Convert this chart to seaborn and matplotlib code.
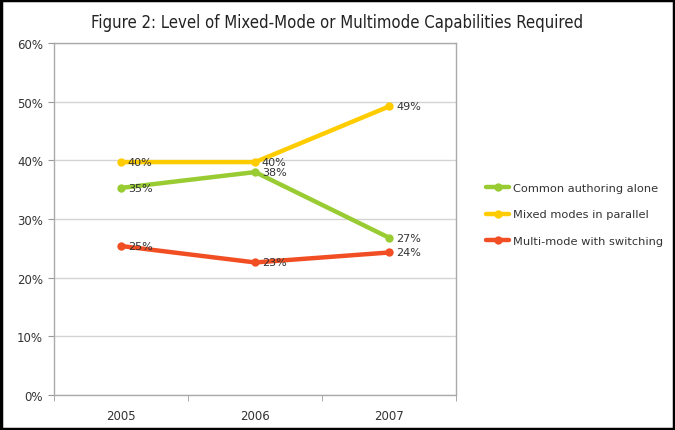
import pandas as pd
import seaborn as sns
import matplotlib.pyplot as plt
from matplotlib.patches import Rectangle

years = ['2005', '2006', '2007']
common_authoring = [35.3, 38.0, 26.8]
mixed_parallel = [39.7, 39.7, 49.2]
multi_switching = [25.4, 22.6, 24.3]
series_names = ['Common authoring alone', 'Mixed modes in parallel',
                'Multi-mode with switching']
value_labels = {
    'Common authoring alone': ['35%', '38%', '27%'],
    'Mixed modes in parallel': ['40%', '40%', '49%'],
    'Multi-mode with switching': ['25%', '23%', '24%'],
}
colors = ['#99CC33', '#FFCC00', '#F24E24']

sns.set_style('white')
plt.rcParams['font.family'] = ['DejaVu Sans']

rows = []
for name, vals in zip(series_names,
                      [common_authoring, mixed_parallel, multi_switching]):
    for i, (yr, v) in enumerate(zip(years, vals)):
        rows.append({'Year': yr, 'pos': i, 'Value': v, 'Series': name})
df = pd.DataFrame(rows)

fig = plt.figure(figsize=(6.75, 4.31), dpi=100)
ax = fig.add_axes([0.08, 0.081, 0.596, 0.817])

sns.lineplot(data=df, x='pos', y='Value', hue='Series',
             palette=dict(zip(series_names, colors)), linewidth=3.2,
             marker='o', markersize=6, markeredgewidth=0, ax=ax, zorder=3)

for name in series_names:
    sub = df[df['Series'] == name]
    for (_, r), lab in zip(sub.iterrows(), value_labels[name]):
        ax.text(r['pos'] + 0.05, r['Value'], lab, fontsize=8,
                color='#333333', va='center', ha='left', zorder=4)

ax.set_xlim(-0.5, 2.5)
ax.set_ylim(0, 60)
ax.set_yticks(range(0, 61, 10))
ax.set_yticklabels([f'{v}%' for v in range(0, 61, 10)], fontsize=8.5,
                   color='#333333')
ax.set_xticks([0, 1, 2])
ax.set_xticklabels(years, fontsize=8.5, color='#333333')
ax.set_xticks([-0.5, 0.5, 1.5, 2.5], minor=True)
ax.tick_params(axis='x', which='major', length=0, pad=10)
ax.tick_params(axis='x', which='minor', length=4, color='#999999',
               direction='out', bottom=True)
ax.tick_params(axis='y', length=4, color='#999999', direction='out',
               left=True, pad=4)
ax.yaxis.grid(True, color='#D4D4D4', linewidth=1)
ax.set_axisbelow(True)
for s in ax.spines.values():
    s.set_color('#AAAAAA')
    s.set_linewidth(1)
ax.set_xlabel('')
ax.set_ylabel('')

handles, labels = ax.get_legend_handles_labels()
ax.legend_.remove()
fig.legend(handles, labels, loc='center left', bbox_to_anchor=(0.705, 0.5),
           frameon=False, fontsize=8.2, labelspacing=1.45,
           handlelength=2.0, handletextpad=0.4, labelcolor='#333333')

fig.text(0.5, 0.947, 'Figure 2: Level of Mixed-Mode or Multimode Capabilities Required',
         ha='center', va='center', fontsize=12, color='#222222',
         fontstretch='condensed')

fig.patches.append(Rectangle((0.002, 0.003), 0.996, 0.994,
                             transform=fig.transFigure, fill=False,
                             edgecolor='black', linewidth=2.5))

fig.savefig('out.png', dpi=100)
